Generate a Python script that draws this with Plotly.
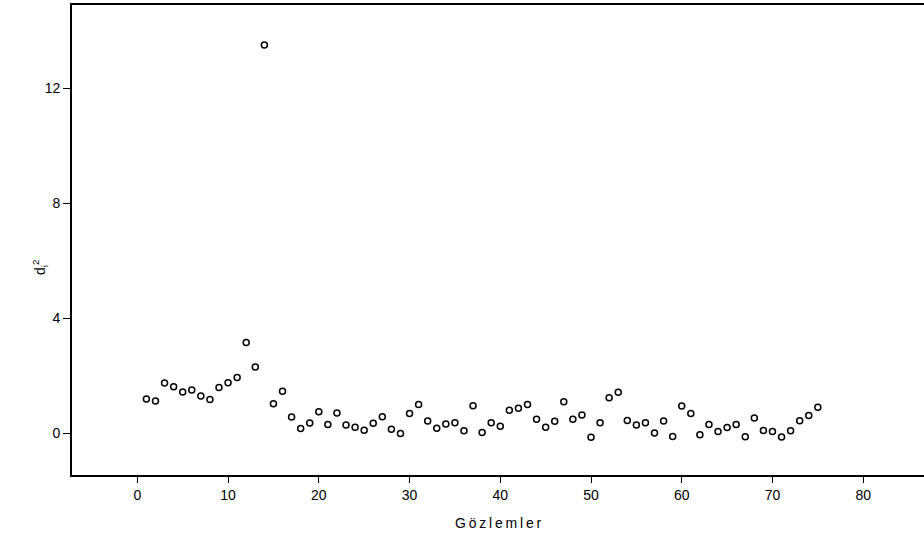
import plotly.graph_objects as go

obs = list(range(1, 76))
d2 = [1.18, 1.11, 1.74, 1.61, 1.43, 1.50, 1.29, 1.17, 1.58, 1.75,
      1.93, 3.15, 2.30, 13.50, 1.02, 1.45, 0.56, 0.16, 0.35, 0.74,
      0.30, 0.70, 0.28, 0.20, 0.10, 0.34, 0.57, 0.13, -0.02, 0.68,
      0.99, 0.42, 0.17, 0.31, 0.36, 0.08, 0.95, 0.02, 0.36, 0.24,
      0.79, 0.86, 0.99, 0.48, 0.20, 0.41, 1.09, 0.48, 0.63, -0.15,
      0.36, 1.23, 1.42, 0.44, 0.28, 0.36, 0.00, 0.42, -0.12, 0.94,
      0.68, -0.06, 0.30, 0.05, 0.19, 0.30, -0.13, 0.52, 0.09, 0.05,
      -0.14, 0.08, 0.43, 0.61, 0.90]

xticks = [0, 10, 20, 30, 40, 50, 60, 70, 80]
yticks = [0, 4, 8, 12]
x_title = "Gözlemler"
y_title = "d<sub>i</sub><sup>2</sup>"

font = "Liberation Sans, Arial, sans-serif"

fig = go.Figure()
fig.add_trace(go.Scatter(
    x=obs, y=d2, mode="markers",
    marker=dict(symbol="circle-open", size=6, color="black", line=dict(width=1.5)),
    showlegend=False, hoverinfo="skip",
))

fig.update_layout(
    width=924, height=537,
    margin=dict(l=72, r=0, t=5, b=62),
    plot_bgcolor="white", paper_bgcolor="white",
    font=dict(family=font, size=14, color="black"),
    xaxis=dict(
        range=[-7.2, 86.7], tickvals=xticks, ticktext=[str(v) for v in xticks],
        showgrid=False, zeroline=False, showline=True, mirror=True,
        linecolor="black", linewidth=1.6, ticks="outside", ticklen=6,
        tickwidth=1.2, tickcolor="black", tickfont=dict(size=14),
    ),
    yaxis=dict(
        range=[-1.46, 14.89], tickvals=yticks, ticktext=[str(v) for v in yticks],
        showgrid=False, zeroline=False, showline=True, mirror=False,
        linecolor="black", linewidth=1.6, ticks="outside", ticklen=7,
        tickwidth=1.2, tickcolor="black", tickfont=dict(size=14),
    ),
    annotations=[
        dict(text="\u2009".join(x_title), xref="paper", yref="paper",
             x=(499 - 72) / 852, y=-(523 - 475) / 470, showarrow=False,
             xanchor="center", yanchor="middle", font=dict(size=14)),
        dict(text=y_title, xref="paper", yref="paper",
             x=-(72 - 40) / 852, y=(475 - 268) / 470, showarrow=False,
             textangle=-90, xanchor="center", yanchor="middle",
             font=dict(size=14)),
    ],
)

fig.write_html("out.html")
